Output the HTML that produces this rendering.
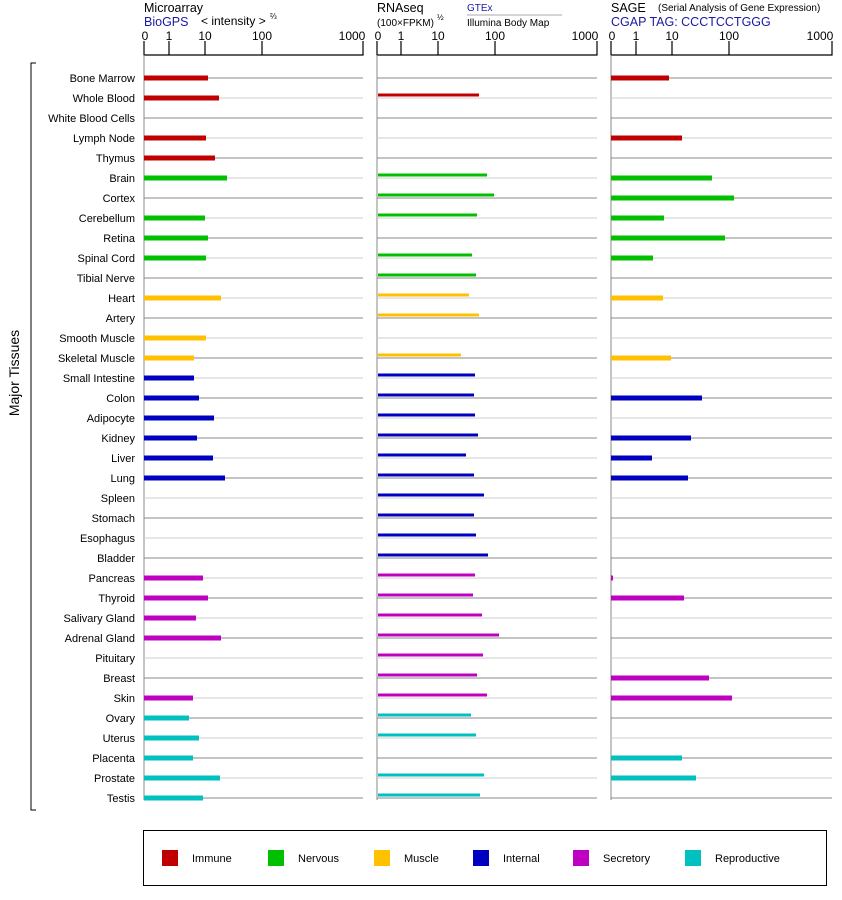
<!DOCTYPE html>
<html><head><meta charset="utf-8"><style>
body{margin:0;background:#fff;}
svg{display:block;font-family:"Liberation Sans",Arial,sans-serif;}
</style></head><body>
<svg width="842" height="900" viewBox="0 0 842 900">
<!-- headers -->
<text x="144" y="12" font-size="12.5">Microarray</text>
<text x="144" y="26" font-size="12.5" fill="#1a1aa0">BioGPS</text>
<text x="201" y="25" font-size="12">&lt; intensity &gt;</text><text x="270" y="19" font-size="8">⅔</text>
<text x="377" y="12" font-size="12.5">RNAseq</text>
<text x="377" y="26" font-size="10">(100×FPKM)</text><text x="437" y="20" font-size="8">½</text>
<text x="467" y="11" font-size="10" fill="#1a1aa0">GTEx</text>
<line x1="467" y1="15" x2="562" y2="15" stroke="#aaa"/>
<text x="467" y="26" font-size="10">Illumina Body Map</text>
<text x="611" y="12" font-size="12.5">SAGE</text>
<text x="658" y="11" font-size="10">(Serial Analysis of Gene Expression)</text>
<text x="611" y="26" font-size="12.5" fill="#1a1aa0">CGAP TAG: CCCTCCTGGG</text>
<!-- axes -->
<g stroke="#000" stroke-width="1.2" fill="none">
<path d="M144,41V55H363V41M169,41V55M205,41V55M262,41V55"/>
<path d="M377,41V55H597V41M401,41V55M438,41V55M495,41V55"/>
<path d="M611,41V55H832V41M636,41V55M672,41V55M729,41V55"/>
</g>
<g font-size="12" text-anchor="middle">
<text x="145" y="40">0</text><text x="169" y="40">1</text><text x="205" y="40">10</text><text x="262" y="40">100</text><text x="352" y="40">1000</text>
<text x="378" y="40">0</text><text x="401" y="40">1</text><text x="438" y="40">10</text><text x="495" y="40">100</text><text x="585" y="40">1000</text>
<text x="612" y="40">0</text><text x="636" y="40">1</text><text x="672" y="40">10</text><text x="729" y="40">100</text><text x="820" y="40">1000</text>
</g>
<g stroke="#888"><line x1="144" y1="55" x2="144" y2="800"/><line x1="377" y1="55" x2="377" y2="800"/><line x1="611" y1="55" x2="611" y2="800"/></g>
<!-- bracket -->
<path d="M36,63H31V810H36" stroke="#000" fill="none"/>
<text transform="translate(19,373) rotate(-90)" font-size="14" text-anchor="middle">Major Tissues</text>
<!-- row lines -->
<g stroke-width="1">
<g stroke="#888"><path d="M144,78H363M377,78H597M611,78H832M144,118H363M377,118H597M611,118H832M144,158H363M377,158H597M611,158H832M144,198H363M377,198H597M611,198H832M144,238H363M377,238H597M611,238H832M144,278H363M377,278H597M611,278H832M144,318H363M377,318H597M611,318H832M144,358H363M377,358H597M611,358H832M144,398H363M377,398H597M611,398H832M144,438H363M377,438H597M611,438H832M144,478H363M377,478H597M611,478H832M144,518H363M377,518H597M611,518H832M144,558H363M377,558H597M611,558H832M144,598H363M377,598H597M611,598H832M144,638H363M377,638H597M611,638H832M144,678H363M377,678H597M611,678H832M144,718H363M377,718H597M611,718H832M144,758H363M377,758H597M611,758H832M144,798H363M377,798H597M611,798H832"/></g>
<g stroke="#cccccc"><path d="M144,98H363M377,98H597M611,98H832M144,138H363M377,138H597M611,138H832M144,178H363M377,178H597M611,178H832M144,218H363M377,218H597M611,218H832M144,258H363M377,258H597M611,258H832M144,298H363M377,298H597M611,298H832M144,338H363M377,338H597M611,338H832M144,378H363M377,378H597M611,378H832M144,418H363M377,418H597M611,418H832M144,458H363M377,458H597M611,458H832M144,498H363M377,498H597M611,498H832M144,538H363M377,538H597M611,538H832M144,578H363M377,578H597M611,578H832M144,618H363M377,618H597M611,618H832M144,658H363M377,658H597M611,658H832M144,698H363M377,698H597M611,698H832M144,738H363M377,738H597M611,738H832M144,778H363M377,778H597M611,778H832"/></g>
</g>
<!-- labels -->
<g font-size="11" text-anchor="end">
<text x="135" y="82">Bone Marrow</text><text x="135" y="102">Whole Blood</text><text x="135" y="122">White Blood Cells</text><text x="135" y="142">Lymph Node</text><text x="135" y="162">Thymus</text>
<text x="135" y="182">Brain</text><text x="135" y="202">Cortex</text><text x="135" y="222">Cerebellum</text><text x="135" y="242">Retina</text><text x="135" y="262">Spinal Cord</text><text x="135" y="282">Tibial Nerve</text>
<text x="135" y="302">Heart</text><text x="135" y="322">Artery</text><text x="135" y="342">Smooth Muscle</text><text x="135" y="362">Skeletal Muscle</text>
<text x="135" y="382">Small Intestine</text><text x="135" y="402">Colon</text><text x="135" y="422">Adipocyte</text><text x="135" y="442">Kidney</text><text x="135" y="462">Liver</text><text x="135" y="482">Lung</text><text x="135" y="502">Spleen</text><text x="135" y="522">Stomach</text><text x="135" y="542">Esophagus</text><text x="135" y="562">Bladder</text>
<text x="135" y="582">Pancreas</text><text x="135" y="602">Thyroid</text><text x="135" y="622">Salivary Gland</text><text x="135" y="642">Adrenal Gland</text><text x="135" y="662">Pituitary</text><text x="135" y="682">Breast</text><text x="135" y="702">Skin</text>
<text x="135" y="722">Ovary</text><text x="135" y="742">Uterus</text><text x="135" y="762">Placenta</text><text x="135" y="782">Prostate</text><text x="135" y="802">Testis</text>
</g>
<!-- microarray bars -->
<g stroke-width="5" stroke-linecap="butt">
<g stroke="#c00000"><path d="M144,78H208M144,98H219M144,138H206M144,158H215"/></g>
<g stroke="#00c000"><path d="M144,178H227M144,218H205M144,238H208M144,258H206"/></g>
<g stroke="#ffc000"><path d="M144,298H221M144,338H206M144,358H194"/></g>
<g stroke="#0000c0"><path d="M144,378H194M144,398H199M144,418H214M144,438H197M144,458H213M144,478H225"/></g>
<g stroke="#c000c0"><path d="M144,578H203M144,598H208M144,618H196M144,638H221M144,698H193"/></g>
<g stroke="#00c0c0"><path d="M144,718H189M144,738H199M144,758H193M144,778H220M144,798H203"/></g>
</g>
<!-- SAGE bars -->
<g stroke-width="5" stroke-linecap="butt">
<g stroke="#c00000"><path d="M611,78H669M611,138H682"/></g>
<g stroke="#00c000"><path d="M611,178H712M611,198H734M611,218H664M611,238H725M611,258H653"/></g>
<g stroke="#ffc000"><path d="M611,298H663M611,358H671"/></g>
<g stroke="#0000c0"><path d="M611,398H702M611,438H691M611,458H652M611,478H688"/></g>
<g stroke="#c000c0"><path d="M611,578H613M611,598H684M611,678H709M611,698H732"/></g>
<g stroke="#00c0c0"><path d="M611,758H682M611,778H696"/></g>
</g>
<!-- RNAseq bars -->
<g stroke-width="3">
<g stroke="#c00000"><path d="M378,95H479"/></g>
<g stroke="#00c000"><path d="M378,175H487M378,195H494M378,215H477M378,255H472M378,275H476"/></g>
<g stroke="#ffc000"><path d="M378,295H469M378,315H479M378,355H461"/></g>
<g stroke="#0000c0"><path d="M378,375H475M378,395H474M378,415H475M378,435H478M378,455H466M378,475H474M378,495H484M378,515H474M378,535H476M378,555H488"/></g>
<g stroke="#c000c0"><path d="M378,575H475M378,595H473M378,615H482M378,635H499M378,655H483M378,675H477M378,695H487"/></g>
<g stroke="#00c0c0"><path d="M378,715H471M378,735H476M378,775H484M378,795H480"/></g>
</g>
<!-- legend -->
<rect x="143.5" y="830.5" width="683" height="55" fill="none" stroke="#000"/>
<rect x="162" y="850" width="16" height="16" fill="#c00000"/><text x="192" y="862" font-size="11">Immune</text>
<rect x="268" y="850" width="16" height="16" fill="#00c000"/><text x="298" y="862" font-size="11">Nervous</text>
<rect x="374" y="850" width="16" height="16" fill="#ffc000"/><text x="404" y="862" font-size="11">Muscle</text>
<rect x="473" y="850" width="16" height="16" fill="#0000c0"/><text x="503" y="862" font-size="11">Internal</text>
<rect x="573" y="850" width="16" height="16" fill="#c000c0"/><text x="603" y="862" font-size="11">Secretory</text>
<rect x="685" y="850" width="16" height="16" fill="#00c0c0"/><text x="715" y="862" font-size="11">Reproductive</text>
</svg>
</body></html>
